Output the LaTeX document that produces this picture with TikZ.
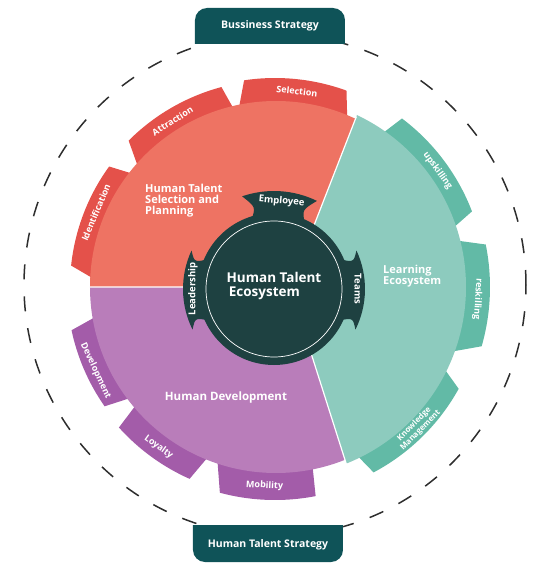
\documentclass[tikz,border=0pt]{standalone}
\usepackage{fontspec}
\setmainfont{Open Sans}
\definecolor{redmain}{HTML}{EE7363}
\definecolor{redtab}{HTML}{E4514A}
\definecolor{tealmain}{HTML}{8DCBBE}
\definecolor{tealtab}{HTML}{62BAA6}
\definecolor{purmain}{HTML}{B97DBA}
\definecolor{purtab}{HTML}{A35CA9}
\definecolor{hubdark}{HTML}{1E4141}
\definecolor{boxdark}{HTML}{0F5358}
\definecolor{dashcol}{HTML}{2E2E2E}
% gear tooth: colour, base angle 1, top angle 1, top angle 2, base angle 2, outer radius
\newcommand\gearTab[6]{%
  \fill[#1] (#2:178) -- (#3:#6) arc[start angle=#3, end angle=#4, radius=#6]
    -- (#5:178) arc[start angle=#5, end angle=#2, radius=178] -- cycle;}
% hub tooth: low angle, high angle, outer radius
\newcommand\hubTab[3]{%
  \fill[hubdark] (#2:72) .. controls (#2-6:84) .. (#2+0.5:#3)
    arc[start angle=#2+0.5, end angle=#1-0.5, radius=#3]
    .. controls (#1+6:84) .. (#1:72) -- cycle;}
\begin{document}
\begin{tikzpicture}[x=1pt,y=1pt,
  tablab/.style={text=white,font=\fontsize{9}{9}\selectfont\bfseries,inner sep=0pt,align=center},
  seglab/.style={text=white,font=\fontsize{11}{11}\selectfont\bfseries,inner sep=0pt,align=left},
  hublab/.style={text=white,font=\fontsize{9.5}{9.5}\selectfont\bfseries,inner sep=0pt},
  boxlab/.style={text=white,font=\fontsize{10.5}{10.5}\selectfont\bfseries,inner sep=0pt}]
\useasboundingbox (-275,-276) rectangle (265,287);

% dashed outer circle
\draw[dashcol, line width=1.5pt, dash pattern=on 15pt off 17pt] (0,2) circle[radius=251];

% gear teeth (drawn below the discs)
\gearTab{redtab}{66}{70}{98.5}{102}{209}
\gearTab{redtab}{102.6}{105}{135}{139.5}{207}
\gearTab{redtab}{141}{144}{174}{178}{205}
\gearTab{tealtab}{17}{21}{53}{56}{211}
\gearTab{tealtab}{-22}{-16}{11.4}{15.6}{215}
\gearTab{tealtab}{-65}{-62}{-29}{-24}{210}
\gearTab{purtab}{189}{192}{215}{218}{208}
\gearTab{purtab}{220}{222}{246}{249}{210}
\gearTab{purtab}{251}{255}{281}{282}{213}

% three segments of the disc
\begin{scope}
  \clip (15,0) -- (160.1,372.7) -- (-400,400) -- (-400,0) -- cycle;
  \fill[redmain] (1,0) circle[radius=186];
\end{scope}
\begin{scope}
  \clip (15,0) -- (-400,0) -- (-400,-400) -- (136.6,-381.1) -- cycle;
  \fill[purmain] (1,0) circle[radius=186];
\end{scope}
\begin{scope}
  \clip (15,0) -- (136.6,-381.1) -- (400,-400) -- (400,400) -- (160.1,372.7) -- cycle;
  \fill[tealmain] (1,0) circle[radius=190];
\end{scope}
\coordinate (P) at (15,0);
\coordinate (RT) at (81.4,170.5);
\coordinate (TP) at (72.9,-182);
\coordinate (RP) at (-186,0);
\draw[white, line width=1.2pt] (P) -- (RT) (P) -- (TP) (P) -- (RP);

% tooth labels
\node[tablab, rotate=-6.4] (sel) at (83.6:197) {Selection};
\node[tablab, rotate=31.7] (att) at (121.7:195) {Attraction};
\node[tablab, rotate=67.4] (ide) at (157.4:194) {Identification};
\node[tablab, rotate=-54.4] (ups) at (35.6:200) {upskilling};
\node[tablab, rotate=-93.4] (res) at (-3.4:203) {reskilling};
\node[tablab, rotate=45.4, font=\fontsize{8}{7.5}\selectfont\bfseries] (kno) at (-44.6:200) {Knowledge\\Management};
\node[tablab, rotate=-3] (mob) at (267:199) {Mobility};
\node[tablab, rotate=-36] (loy) at (234:198) {Loyalty};
\node[tablab, rotate=-65] (dev) at (205:198) {Development};

% segment labels
\node[seglab, anchor=north west] (htsp) at (-130,103) {Human Talent\\Selection and\\Planning};
\node[seglab, anchor=north west, font=\fontsize{11}{10.5}\selectfont\bfseries] (lec) at (108,22) {Learning\\Ecosystem};
\node[seglab, font=\fontsize{11.5}{11.5}\selectfont\bfseries] (hdv) at (-49,-111) {Human Development};

% central hub
\begin{scope}[shift={(-1,-2)}]
  \fill[hubdark] (0,0) circle[radius=76];
  \hubTab{64.5}{108.5}{98}
  \hubTab{-26}{24.5}{91}
  \hubTab{155.5}{206}{91}
  \draw[white, line width=0.7pt] (0,0) circle[radius=68];
  \node[hublab, rotate=-5] (emp) at (85:88) {Employee};
  \node[hublab, rotate=-90] (tea) at (0:84) {Teams};
  \node[hublab, rotate=90] (lea) at (180:81) {Leadership};
  \node[text=white, font=\fontsize{13.5}{13.5}\selectfont\bfseries, align=left, inner sep=0pt] (hte) at (0,3) {Human Talent\\\,Ecosystem};
\end{scope}

% strategy boxes
\fill[boxdark] (-80,243) -- (-80,267) arc[start angle=180, end angle=90, radius=12]
  -- (58,279) arc[start angle=90, end angle=0, radius=12] -- (70,243) -- cycle;
\node[boxlab] (bus) at (-5,261) {Bussiness Strategy};
\fill[boxdark] (-82,-238) -- (68,-238) -- (68,-263) arc[start angle=0, end angle=-90, radius=12]
  -- (-70,-275) arc[start angle=-90, end angle=-180, radius=12] -- cycle;
\node[boxlab] (hts) at (-7,-258) {Human Talent Strategy};
\end{tikzpicture}
\end{document}
